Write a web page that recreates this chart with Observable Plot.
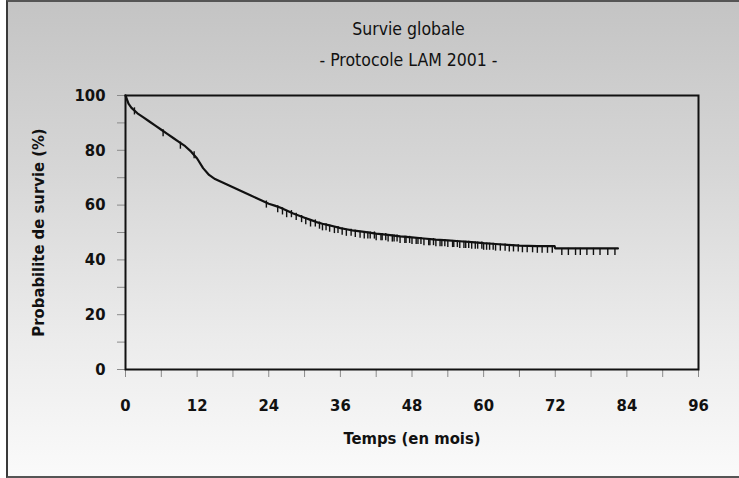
<!DOCTYPE html>
<html>
<head>
<meta charset="utf-8">
<script src="https://cdn.jsdelivr.net/npm/d3@7"></script>
<script src="https://cdn.jsdelivr.net/npm/@observablehq/plot@0.6"></script>
<style>
  html, body { margin: 0; padding: 0; }
  #wrap {
    position: relative; height: 478px; box-sizing: border-box;
    background: linear-gradient(to bottom, #c4c4c4 0%, #d6d6d6 35%, #ebebeb 70%, #fafafa 100%);
    border-left: 2px solid #3a3a3a; border-top: 2px solid #555; border-bottom: 2px solid #555;
    margin-left: 6px; width: 733px;
    font-family: "DejaVu Sans Condensed", "Open Sans", sans-serif;
  }
  .t { position: absolute; left: -337px; width: 1475px; text-align: center; font-size: 17.5px; color: #111; }
  #plot { position: absolute; left: -8px; top: 73px; }
</style>
</head>
<body>
<div id="wrap">
  <div class="t" style="top:17px;">Survie globale</div>
  <div class="t" style="top:48px;">- Protocole LAM 2001 -</div>
  <div id="plot"></div>
</div>
<script>
// Kaplan-Meier survival estimate (months, %)
const times = [0, 0.5, 1, 2, 3, 4, 5, 6, 7, 8, 9, 10, 11, 12, 13, 14, 15, 16, 17, 18, 19, 20, 21, 22, 23, 24, 25, 26, 27, 28, 29, 30, 31, 32, 33, 34, 35, 36, 37, 38, 39, 40, 42, 44, 46, 48, 50, 52, 54, 56, 58, 60, 62, 64, 66, 69, 71.9, 72, 82.5];
const survival = [100, 97, 95.5, 93.5, 92, 90.5, 89, 87.5, 86, 84.5, 83, 81.5, 79.5, 77, 73.5, 71, 69.5, 68.5, 67.5, 66.5, 65.5, 64.5, 63.5, 62.5, 61.5, 60.5, 59.8, 59, 58, 57, 56.2, 55.4, 54.6, 53.8, 53.2, 52.7, 52.2, 51.6, 51.2, 50.8, 50.5, 50.2, 49.6, 49.1, 48.6, 48.2, 47.8, 47.4, 47.1, 46.8, 46.5, 46.1, 45.8, 45.5, 45.2, 45.0, 45.0, 44.2, 44.2];
// censored observations (months)
const censorTimes = [1.5, 6.3, 9.2, 11.5, 23.6, 25.5, 26.3, 27, 27.8, 28.6, 29.5, 30.2, 31, 31.8, 32.5, 33, 33.6, 34.2, 35, 35.6, 36.3, 37, 37.8, 38.5, 39.3, 40, 40.6, 41, 41.7, 42, 42.8, 43, 43.6, 44, 44.7, 45, 45.5, 46, 46.8, 47, 47.6, 48, 48.7, 49, 49.5, 50, 50.8, 51, 51.6, 52, 52.7, 53, 53.5, 54, 54.8, 55, 55.6, 56, 56.7, 57, 57.5, 58, 58.6, 59, 59.7, 60, 60.5, 61, 61.6, 62, 62.8, 63.6, 64.3, 65, 65.8, 66.5, 67.3, 68.2, 69, 69.8, 70.7, 71.5, 73.1, 74.2, 75.4, 76.2, 77.3, 78.4, 79.5, 80.8, 82];
const xTicks = [0, 12, 24, 36, 48, 60, 72, 84, 96];
const yTicks = [0, 20, 40, 60, 80, 100];
const xTitle = "Temps (en mois)";
const yTitle = "Probabilite de survie (%)";

const km = times.map((t, i) => ({t, s: survival[i]}));
const stepAt = t => { let s = survival[0]; for (let i = 0; i < times.length; i++) if (times[i] <= t) s = survival[i]; return s; };
const censors = censorTimes.map(t => ({t, s: stepAt(t)}));

const font = `"DejaVu Sans Condensed", "Open Sans", sans-serif`;
const chart = Plot.plot({
  width: 739, height: 400,
  marginTop: 20, marginLeft: 125, marginRight: 41, marginBottom: 106,
  style: {background: "transparent", fontFamily: font, color: "#111", overflow: "visible"},
  x: {domain: [0, 96]},
  y: {domain: [0, 100]},
  marks: [
    Plot.axisX(d3.range(0, 97, 6), {tickSize: 8, stroke: "#8a8a8a", text: null, label: null}),
    Plot.axisX(xTicks, {tickSize: 0, tickPadding: 30, fontSize: 16.5, fontWeight: "bold", label: null}),
    Plot.axisY(d3.range(0, 101, 10), {tickSize: 8, stroke: "#8a8a8a", text: null, label: null}),
    Plot.axisY(yTicks, {tickSize: 0, tickPadding: 20, fontSize: 16.5, fontWeight: "bold", label: null}),
    Plot.frame({stroke: "#111", strokeWidth: 2}),
    Plot.line(km, {x: "t", y: "s", stroke: "#111", strokeWidth: 2.2}),
    Plot.ruleX(censors, {x: "t", y1: "s", y2: d => d.s - 2.6, stroke: "#111", strokeWidth: 1.4}),
    Plot.text([xTitle], {frameAnchor: "bottom", dy: 74, fontSize: 16.5, fontWeight: "bold"}),
    Plot.text([yTitle], {frameAnchor: "left", textAnchor: "middle", dx: -87, rotate: -90, fontSize: 16.5, fontWeight: "bold"})
  ]
});
document.getElementById("plot").appendChild(chart);
</script>
</body>
</html>
